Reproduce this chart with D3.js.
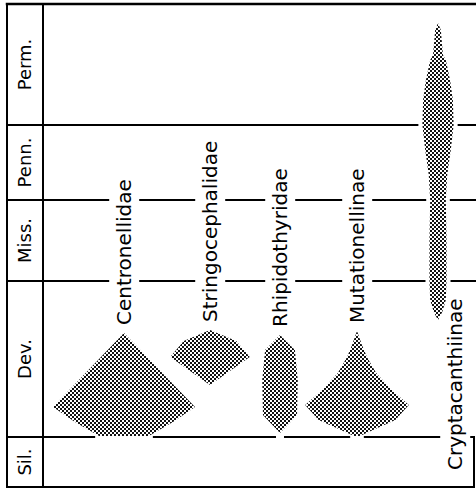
<!DOCTYPE html>
<html>
<head>
<meta charset="utf-8">
<script src="https://cdn.jsdelivr.net/npm/d3@7/dist/d3.min.js"></script>
<style>
  html, body { margin: 0; padding: 0; background: #fff; }
  svg { display: block; }
</style>
</head>
<body>
<div id="chart"></div>
<script>
// Geological periods, oldest first
const periods = ["Sil.", "Dev.", "Miss.", "Penn.", "Perm."];

// Families / subfamilies, in column order
const taxa = ["Centronellidae", "Stringocephalidae", "Rhipidothyridae", "Mutationellinae", "Cryptacanthiinae"];

// Spindle profiles: stratigraphic level (period units, 0 = base of the Silurian strip,
// 1 = base of the Devonian, ...) and relative diversity (half width), listed top to bottom
const centronellidaeLevels = [1.667, 1.192, 1.096, 1.006];
const centronellidaeWidths = [0, 10, 6.9, 3.5];

const stringocephalidaeLevels = [1.686, 1.615, 1.513, 1.423, 1.333];
const stringocephalidaeWidths = [0, 3.7, 5.6, 2.8, 0];

const rhipidothyridaeLevels = [1.654, 1.558, 1.365, 1.141, 1.026];
const rhipidothyridaeWidths = [0, 2.1, 2.5, 2.4, 0];

const mutationellinaeLevels = [1.679, 1.590, 1.513, 1.410, 1.301, 1.205, 1.109, 1.006];
const mutationellinaeWidths = [0, 0.7, 1.4, 2.7, 4.9, 7.3, 5.4, 0.4];

const cryptacanthiinaeLevels = [4.843, 4.785, 4.579, 4.537, 4.372, 4.207, 4.0, 3.667, 3.333, 3.0, 2.506, 2.0, 1.878, 1.801, 1.750];
const cryptacanthiinaeWidths = [0, 0.4, 0.7, 1.1, 1.7, 2.1, 2.2, 1.8, 1.3, 1.1, 1.2, 1.2, 1.1, 0.6, 0];

const profiles = [
  { levels: centronellidaeLevels, widths: centronellidaeWidths },
  { levels: stringocephalidaeLevels, widths: stringocephalidaeWidths },
  { levels: rhipidothyridaeLevels, widths: rhipidothyridaeWidths },
  { levels: mutationellinaeLevels, widths: mutationellinaeWidths },
  { levels: cryptacanthiinaeLevels, widths: cryptacanthiinaeWidths }
];

const W = 476, H = 491;
const left = 7, divider = 43, right = 476, rightBorder = 474;

// Each period gets its own band height on the vertical axis
const y = d3.scaleLinear()
  .domain([0, 1, 2, 3, 4, 5])
  .range([487, 437, 281, 200, 125, 4]);

// Column centres of the spindles
const x = d3.scaleOrdinal()
  .domain(taxa)
  .range([124, 210, 280, 357, 438]);

// Relative diversity -> half width in pixels
const w = d3.scaleLinear().domain([0, 10]).range([0, 71]);

const svg = d3.select("#chart").append("svg")
  .attr("width", W).attr("height", H)
  .attr("viewBox", `0 0 ${W} ${H}`);

svg.append("rect").attr("width", W).attr("height", H).attr("fill", "#fff");

// Halftone screen used for the spindles: a pixel checker of 2px dots
const defs = svg.append("defs");
const pat = defs.append("pattern")
  .attr("id", "screen")
  .attr("patternUnits", "userSpaceOnUse")
  .attr("width", 4).attr("height", 4);
pat.append("rect").attr("width", 4).attr("height", 4).attr("fill", "#fff");
pat.append("rect").attr("x", 0).attr("y", 0).attr("width", 2).attr("height", 2).attr("fill", "#111").attr("shape-rendering", "crispEdges");
pat.append("rect").attr("x", 2).attr("y", 2).attr("width", 2).attr("height", 2).attr("fill", "#111").attr("shape-rendering", "crispEdges");

const fontFamily = "'DejaVu Sans', Verdana, sans-serif";

// Spindles
const spindles = taxa.map((name, i) => {
  const p = profiles[i];
  return { name, cx: x(name), pts: p.levels.map((lv, j) => ({ level: lv, hw: p.widths[j] })) };
});

spindles.forEach(s => {
  const area = d3.area()
    .y(d => y(d.level))
    .x0(d => s.cx - w(d.hw))
    .x1(d => s.cx + w(d.hw))
    .curve(d3.curveLinear);
  svg.append("path")
    .datum(s.pts)
    .attr("d", area)
    .attr("fill", "url(#screen)");
});

// Taxon labels: above the spindle, or beside its base when it runs up into the Permian
const labels = svg.append("g").attr("font-family", fontFamily).attr("font-size", 20).attr("fill", "#000");
const labelBoxes = [];
spindles.forEach(s => {
  const top = d3.max(s.pts, d => d.level);
  const beside = top > 4;
  const lx = beside ? s.cx + 17 : s.cx;
  const ly = beside ? y(0) - 17 : y(top) - 8;
  const t = labels.append("text")
    .attr("transform", `translate(${lx},${ly}) rotate(-90)`)
    .attr("dy", "0.36em")
    .text(s.name);
  const r = t.node().getBoundingClientRect();
  labelBoxes.push(r);
});

// Period labels in the left column
const periodG = svg.append("g").attr("font-family", fontFamily).attr("font-size", 18).attr("fill", "#000");
periods.forEach((p, i) => {
  const cy = (y(i) + y(i + 1)) / 2;
  periodG.append("text")
    .attr("transform", `translate(${(left + divider) / 2},${cy}) rotate(-90)`)
    .attr("text-anchor", "middle")
    .attr("dy", "0.36em")
    .text(p);
});

// Half width of a spindle at a given level (clamped to its range)
function halfWidthAt(s, level) {
  const pts = s.pts.slice().sort((a, b) => a.level - b.level);
  const lo = pts[0].level, hi = pts[pts.length - 1].level;
  const lv = Math.max(lo, Math.min(hi, level));
  for (let k = 0; k < pts.length - 1; k++) {
    const a = pts[k], b = pts[k + 1];
    if (lv >= a.level && lv <= b.level) {
      const t = b.level === a.level ? 0 : (lv - a.level) / (b.level - a.level);
      return a.hw + t * (b.hw - a.hw);
    }
  }
  return 0;
}

// Split a horizontal line around the gaps left for labels and spindles
function segments(x0, x1, gaps) {
  gaps.sort((a, b) => a[0] - b[0]);
  const out = [];
  let cur = x0;
  gaps.forEach(([a, b]) => {
    if (a > cur) out.push([cur, Math.min(a, x1)]);
    cur = Math.max(cur, b);
  });
  if (cur < x1) out.push([cur, x1]);
  return out;
}

const frame = svg.append("g").attr("stroke", "#000").attr("fill", "none").attr("stroke-linecap", "square");

// Period boundaries
[1, 2, 3, 4].forEach(b => {
  const yy = y(b);
  const gaps = [];
  labelBoxes.forEach(r => {
    if (yy >= r.top - 2 && yy <= r.bottom + 2) gaps.push([r.left - 4, r.right + 4]);
  });
  spindles.forEach(s => {
    const hi = d3.max(s.pts, d => d.level), lo = d3.min(s.pts, d => d.level);
    const yTop = y(hi) - 5, yBot = y(lo) + 5;
    if (yy >= yTop && yy <= yBot) {
      const hw = w(halfWidthAt(s, b));
      gaps.push([s.cx - hw - 5, s.cx + hw + 5]);
    }
  });
  const x1 = b === 1 ? rightBorder : right;
  segments(left, x1, gaps).forEach(([a, c]) => {
    frame.append("line")
      .attr("x1", a).attr("x2", c)
      .attr("y1", yy).attr("y2", yy)
      .attr("stroke-width", 2);
  });
});

// Outer frame and the period column divider
frame.append("line").attr("x1", left).attr("x2", right).attr("y1", y(5)).attr("y2", y(5)).attr("stroke-width", 2.5);
frame.append("line").attr("x1", left).attr("x2", left).attr("y1", y(5)).attr("y2", y(0)).attr("stroke-width", 2);
frame.append("line").attr("x1", divider).attr("x2", divider).attr("y1", y(5)).attr("y2", y(0)).attr("stroke-width", 2);
frame.append("line").attr("x1", left).attr("x2", rightBorder).attr("y1", y(0)).attr("y2", y(0)).attr("stroke-width", 2);
frame.append("line").attr("x1", rightBorder).attr("x2", rightBorder).attr("y1", y(1)).attr("y2", y(0)).attr("stroke-width", 2);
</script>
</body>
</html>
